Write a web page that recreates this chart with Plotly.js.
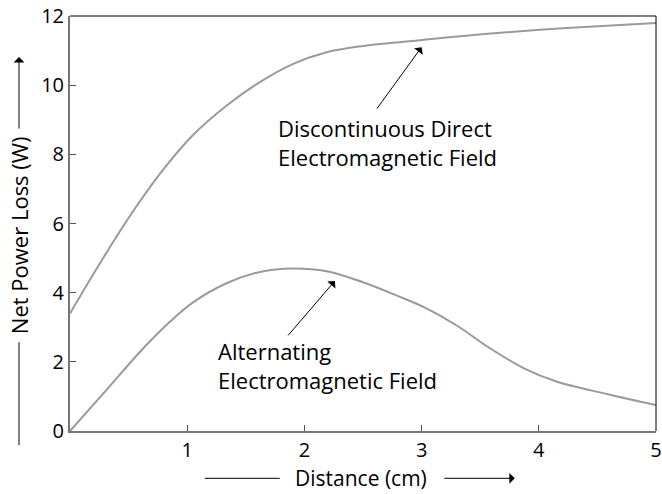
<!DOCTYPE html>
<html>
<head>
<meta charset="utf-8">
<script src="https://cdn.plot.ly/plotly-3.0.1.min.js"></script>
<style>html,body{margin:0;padding:0;background:#fff}#chart{width:662px;height:494px}</style>
</head>
<body>
<div id="chart"></div>
<script>
// Discontinuous Direct Electromagnetic Field
const xDirect = [0, 0.2, 0.48, 0.77, 1.05, 1.34, 1.62, 1.9, 2.19, 2.47, 2.87, 3.44, 4.01, 4.58, 5.0];
const yDirect = [3.4, 4.54, 6.06, 7.45, 8.56, 9.42, 10.09, 10.61, 10.95, 11.12, 11.26, 11.45, 11.6, 11.72, 11.8];
// Alternating Electromagnetic Field
const xAlt = [0, 0.34, 0.6, 0.85, 1.05, 1.34, 1.62, 1.9, 2.19, 2.5, 2.8, 3.02, 3.3, 3.58, 3.87, 4.15, 4.58, 5.0];
const yAlt = [0, 1.3, 2.3, 3.15, 3.72, 4.28, 4.6, 4.7, 4.62, 4.3, 3.9, 3.58, 3.05, 2.4, 1.82, 1.43, 1.07, 0.75];
const xTicks = [1, 2, 3, 4, 5];
const yTicks = [0, 2, 4, 6, 8, 10, 12];

const FONT = '"Open Sans", "DejaVu Sans", sans-serif';
const lineStyle = {color: '#9a9a9a', width: 2, shape: 'spline', smoothing: 1};

const traces = [
  {x: xDirect, y: yDirect, mode: 'lines', line: lineStyle, hoverinfo: 'skip'},
  {x: xAlt, y: yAlt, mode: 'lines', line: lineStyle, hoverinfo: 'skip'}
];

const layout = {
  width: 662, height: 494,
  margin: {l: 70, r: 6, t: 16, b: 63},
  paper_bgcolor: '#fff', plot_bgcolor: '#fff',
  showlegend: false,
  font: {family: FONT, size: 18, color: '#000'},
  xaxis: {
    range: [0, 5], tickvals: xTicks, ticktext: xTicks.map(String),
    ticks: 'inside', ticklen: 6, tickcolor: '#555', tickwidth: 1,
    showline: true, linecolor: '#777', linewidth: 2,
    showgrid: false, zeroline: false, fixedrange: true,
    tickfont: {family: FONT, size: 20, color: '#000'}
  },
  yaxis: {
    range: [0, 12], tickvals: yTicks, ticktext: yTicks.map(String),
    ticks: 'inside', ticklen: 6, tickcolor: '#555', tickwidth: 1,
    showline: true, linecolor: '#777', linewidth: 2,
    showgrid: false, zeroline: false, fixedrange: true,
    tickfont: {family: FONT, size: 20, color: '#000'}
  },
  shapes: [
    {type: 'line', xref: 'paper', yref: 'paper', x0: 0, x1: 1, y0: 1, y1: 1, line: {color: '#000', width: 1}},
    {type: 'line', xref: 'paper', yref: 'paper', x0: 1, x1: 1, y0: 0, y1: 1, line: {color: '#000', width: 1}},
    // plain segments of axis-title arrows
    {type: 'line', xref: 'paper', yref: 'paper', x0: -0.087, x1: -0.087, y0: -0.034, y1: 0.214, line: {color: '#000', width: 1}},
    {type: 'line', xref: 'paper', yref: 'paper', x0: 0.230, x1: 0.358, y0: -0.114, y1: -0.114, line: {color: '#000', width: 1}}
  ],
  annotations: [
    {xref: 'paper', yref: 'paper', x: 0.352, y: 0.694, xanchor: 'left', yanchor: 'middle', align: 'left',
     text: 'Discontinuous Direct<br>Electromagnetic Field', showarrow: false, font: {family: FONT, size: 22, color: '#000'}},
    {xref: 'paper', yref: 'paper', x: 0.249, y: 0.159, xanchor: 'left', yanchor: 'middle', align: 'left',
     text: 'Alternating<br>Electromagnetic Field', showarrow: false, font: {family: FONT, size: 22, color: '#000'}},
    {xref: 'x', yref: 'y', axref: 'x', ayref: 'y', x: 3.0, y: 11.1, ax: 2.61, ay: 9.28, text: '', showarrow: true,
     arrowhead: 1, arrowsize: 1.8, arrowwidth: 1, arrowcolor: '#000'},
    {xref: 'x', yref: 'y', axref: 'x', ayref: 'y', x: 2.26, y: 4.34, ax: 1.85, ay: 2.72, text: '', showarrow: true,
     arrowhead: 1, arrowsize: 1.8, arrowwidth: 1, arrowcolor: '#000'},
    // axis titles
    {xref: 'paper', yref: 'paper', x: -0.088, y: 0.473, xanchor: 'center', yanchor: 'middle', textangle: -90,
     text: 'Net Power Loss (W)', showarrow: false, font: {family: FONT, size: 22, color: '#000'}},
    {xref: 'paper', yref: 'paper', x: 0.497, y: -0.114, xanchor: 'center', yanchor: 'middle',
     text: 'Distance (cm)', showarrow: false, font: {family: FONT, size: 21, color: '#000'}},
    // axis-title arrows
    {xref: 'paper', yref: 'paper', x: -0.087, y: 0.901, ax: 0, ay: 73, text: '', showarrow: true,
     arrowhead: 1, arrowsize: 1.8, arrowwidth: 1, arrowcolor: '#000'},
    {xref: 'paper', yref: 'paper', x: 0.759, y: -0.114, ax: -72, ay: 0, text: '', showarrow: true,
     arrowhead: 1, arrowsize: 1.8, arrowwidth: 1, arrowcolor: '#000'}
  ]
};

Plotly.newPlot('chart', traces, layout, {displayModeBar: false, staticPlot: true});
</script>
</body>
</html>
